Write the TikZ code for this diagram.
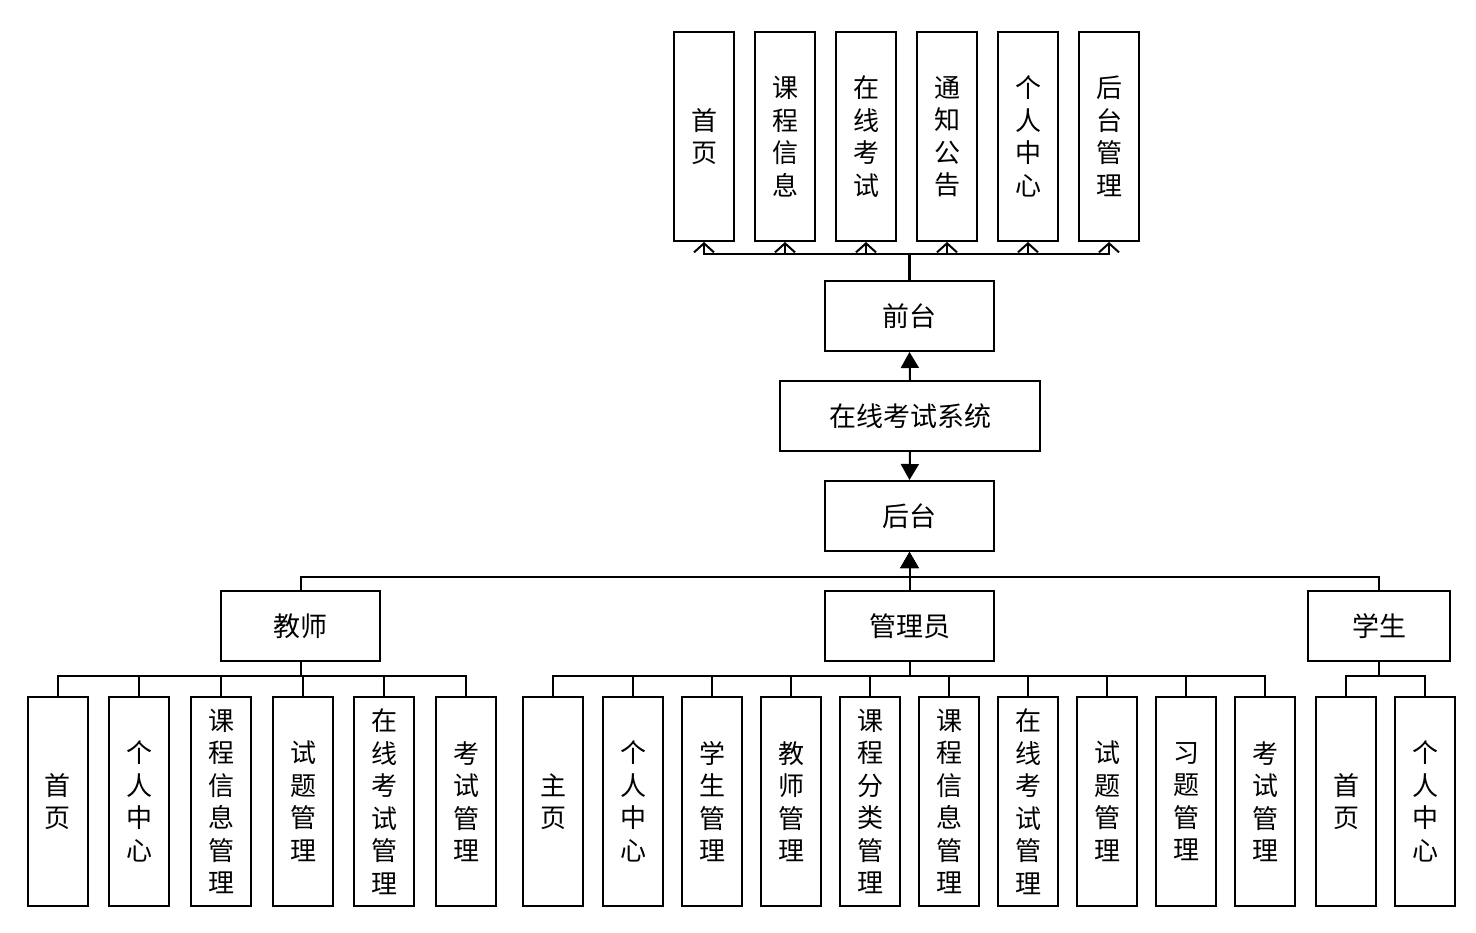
\documentclass[tikz,border=0pt]{standalone}
\usepackage{fontspec}
\newfontfamily\cjk{Noto Sans CJK SC}
\usetikzlibrary{arrows.meta}
\begin{document}
\begin{tikzpicture}[x=1pt,y=-1pt,
  box/.style={draw=black,line width=2pt,fill=white,inner sep=0pt,align=center,
    font=\cjk\fontsize{26}{32.5}\selectfont},
  hbox/.style={box,minimum width=169pt,minimum height=70pt,font=\cjk\fontsize{27}{32.5}\selectfont},
  vbox/.style={box,minimum width=60pt,minimum height=209pt},
  ln/.style={line width=2pt},
  openarr/.style={ln,-{Straight Barb[length=9pt,width=20pt,line width=2pt]}},
  fillarr/.style={ln,-{Triangle[length=16pt,width=18pt]}}
]
\useasboundingbox (0,0) rectangle (1476,933);
% main nodes
\node[hbox] (qt) at (909.5,316) {前台};
\node[hbox,minimum width=260pt] (sys) at (910,416) {在线考试系统};
\node[hbox] (ht) at (909.5,516) {后台};
\node[hbox,minimum width=159pt] (js) at (300.5,626) {教师};
\node[hbox] (gly) at (909.5,626) {管理员};
\node[hbox,minimum width=142pt] (xs) at (1379,626) {学生};
% top row
\foreach \n/\x/\t in {t1/704/首\\页, t2/785/课\\程\\信\\息, t3/866/在\\线\\考\\试,
  t4/947/通\\知\\公\\告, t5/1028/个\\人\\中\\心, t6/1109/后\\台\\管\\理}
  \node[vbox] (\n) at (\x,136.5) {\t};
% teacher row
\foreach \n/\x/\t in {a1/58/首\\页, a2/139/个\\人\\中\\心, a3/221/课\\程\\信\\息\\管\\理,
  a4/303/试\\题\\管\\理, a5/384/在\\线\\考\\试\\管\\理, a6/466/考\\试\\管\\理}
  \node[vbox] (\n) at (\x,801.5) {\t};
% admin row
\foreach \n/\x/\t in {b1/553/主\\页, b2/633/个\\人\\中\\心, b3/712/学\\生\\管\\理,
  b4/791/教\\师\\管\\理, b5/870/课\\程\\分\\类\\管\\理, b6/949/课\\程\\信\\息\\管\\理,
  b7/1028/在\\线\\考\\试\\管\\理, b8/1107/试\\题\\管\\理, b9/1186/习\\题\\管\\理,
  b10/1265/考\\试\\管\\理}
  \node[vbox] (\n) at (\x,801.5) {\t};
% student row
\foreach \n/\x/\t in {s1/1346/首\\页, s2/1425/个\\人\\中\\心}
  \node[vbox] (\n) at (\x,801.5) {\t};
% connectors top
\foreach \c in {t1,t2,t3,t4,t5,t6}
  \draw[openarr] (qt.north) -- ++(0,-26) -| (\c.south);
\draw[line width=3pt] (qt.north) -- ++(0,-26);
\draw[fillarr] (sys.north) -- (qt.south);
\draw[fillarr] (sys.south) -- (ht.north);
\draw[fillarr] (js.north) -- ++(0,-13) -| (ht.south);
\draw[fillarr] (xs.north) -- ++(0,-13) -| (ht.south);
\draw[fillarr] (gly.north) -- (ht.south);
% children
\foreach \c in {a1,a2,a3,a4,a5,a6}
  \draw[ln] (js.south) -- ++(0,14) -| (\c.north);
\foreach \c in {b1,b2,b3,b4,b5,b6,b7,b8,b9,b10}
  \draw[ln] (gly.south) -- ++(0,14) -| (\c.north);
\foreach \c in {s1,s2}
  \draw[ln] (xs.south) -- ++(0,14) -| (\c.north);
\end{tikzpicture}
\end{document}
